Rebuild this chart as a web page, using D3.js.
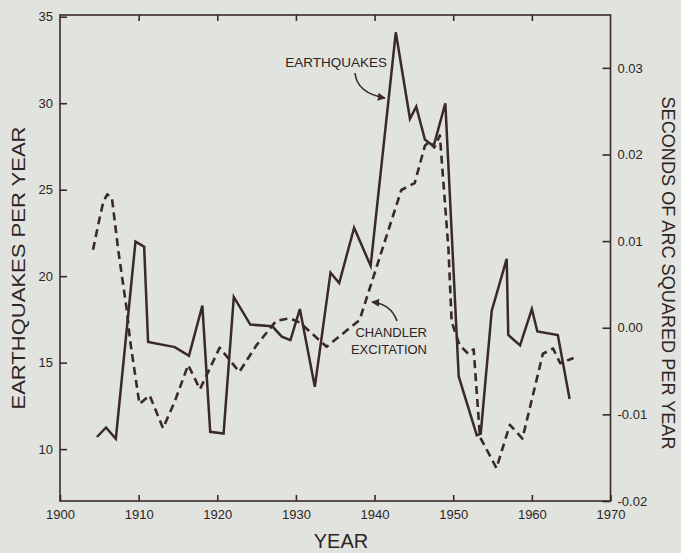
<!DOCTYPE html>
<html>
<head>
<meta charset="utf-8">
<script src="https://cdn.jsdelivr.net/npm/d3@7/dist/d3.min.js"></script>
<style>
  html, body { margin: 0; padding: 0; background: #e1e3de; }
  svg { display: block; }
  text { font-family: "Liberation Sans", Arial, sans-serif; fill: #2e2424; }
</style>
</head>
<body>
<svg id="chart" width="681" height="553"></svg>
<script>
// Annual earthquake counts (left axis)
const quakeYears = [1904.7, 1905.85, 1907.1, 1909.6, 1910.7, 1911.2, 1914.6, 1916.4, 1918.1, 1919.1,
  1920.8, 1922.1, 1924.2, 1927.0, 1928.2, 1929.3, 1930.5, 1932.4, 1934.4, 1935.5,
  1937.4, 1939.5, 1942.7, 1944.5, 1945.3, 1946.4, 1947.5, 1949.0, 1950.7, 1953.0,
  1953.5, 1954.9, 1956.8, 1957.0, 1958.5, 1960.0, 1960.7, 1963.3, 1964.8];
const quakeCounts = [10.7, 11.25, 10.6, 22.0, 21.7, 16.2, 15.9, 15.4, 18.3, 11.0,
  10.9, 18.8, 17.2, 17.1, 16.5, 16.3, 18.1, 13.6, 20.2, 19.6,
  22.8, 20.6, 34.1, 29.1, 29.8, 27.9, 27.5, 30.0, 14.2, 10.8,
  10.9, 18.0, 21.0, 16.6, 16.0, 18.1, 16.8, 16.6, 12.9];

// Chandler wobble excitation, seconds of arc squared per year (right axis)
const chandlerYears = [1904.2, 1905.0, 1905.5, 1906.0, 1906.6, 1907.4, 1908.5, 1908.9, 1910.1, 1911.4,
  1913.1, 1914.6, 1916.3, 1917.8, 1920.3, 1922.8, 1925.0, 1927.5, 1929.2, 1930.5,
  1933.9, 1938.1, 1941.1, 1943.4, 1945.1, 1946.4, 1947.0, 1947.6, 1948.3, 1949.4,
  1949.8, 1950.8, 1951.9, 1952.6, 1953.4, 1955.5, 1957.2, 1958.8, 1961.4, 1962.7,
  1963.6, 1965.3];
const chandlerValues = [0.0090, 0.0125, 0.0145, 0.0154, 0.0150, 0.0090, 0.0020, -0.0014, -0.0088, -0.0078,
  -0.0116, -0.0085, -0.0043, -0.0071, -0.0023, -0.0051, -0.0020, 0.0008, 0.0011, 0.0006,
  -0.0022, 0.0009, 0.0094, 0.0159, 0.0167, 0.0210, 0.0215, 0.0208, 0.0222, 0.0090,
  0.0007, -0.0020, -0.0030, -0.0025, -0.0126, -0.0162, -0.0112, -0.0128, -0.0030, -0.0024,
  -0.0041, -0.0035];

const yearTicks = [1900, 1910, 1920, 1930, 1940, 1950, 1960, 1970];
const countTicks = [10, 15, 20, 25, 30, 35];
const arcTicks = [-0.02, -0.01, 0.00, 0.01, 0.02, 0.03];

const ink = "#3a2929";
const svg = d3.select("#chart");

const plotLeft = 60, plotRight = 610.5, plotTop = 15, plotBottom = 501;
const x = d3.scaleLinear().domain([1900, 1970]).range([plotLeft, plotRight]);
const yL = d3.scaleLinear().domain([7, 35.1]).range([plotBottom, plotTop]);
const yR = d3.scaleLinear().domain([-0.02, 0.0361]).range([plotBottom, plotTop]);

// plot frame
svg.append("rect")
  .attr("x", plotLeft).attr("y", plotTop)
  .attr("width", plotRight - plotLeft).attr("height", plotBottom - plotTop)
  .attr("fill", "none").attr("stroke", ink).attr("stroke-width", 1.6);

function styleAxis(g) {
  g.select(".domain").remove();
  g.selectAll(".tick line").attr("stroke", ink).attr("stroke-width", 1.6);
  g.selectAll(".tick text").attr("font-size", 13).attr("fill", "#2e2424")
    .attr("font-family", "Liberation Sans, Arial, sans-serif");
}

// bottom axis
svg.append("g").attr("transform", `translate(0,${plotBottom})`)
  .call(d3.axisBottom(x).tickValues(yearTicks).tickFormat(d3.format("d")).tickSize(-6).tickPadding(9))
  .call(styleAxis);

// top ticks
svg.append("g").attr("transform", `translate(0,${plotTop})`)
  .call(d3.axisTop(x).tickValues(yearTicks.slice(1, -1)).tickFormat("").tickSize(-6))
  .call(styleAxis);

// left axis
svg.append("g").attr("transform", `translate(${plotLeft},0)`)
  .call(d3.axisLeft(yL).tickValues(countTicks).tickFormat(d3.format("d")).tickSize(-7).tickPadding(7))
  .call(styleAxis);

// right axis
const fmtArc = d => d3.format(".2f")(d).replace("\u2212", "-");
svg.append("g").attr("transform", `translate(${plotRight},0)`)
  .call(d3.axisRight(yR).tickValues(arcTicks).tickFormat(fmtArc).tickSize(-8).tickPadding(7))
  .call(styleAxis);

// series
const quakeLine = d3.line().x(d => x(d[0])).y(d => yL(d[1]));
const chandlerLine = d3.line().x(d => x(d[0])).y(d => yR(d[1]));

svg.append("path")
  .datum(d3.zip(chandlerYears, chandlerValues))
  .attr("d", chandlerLine)
  .attr("fill", "none").attr("stroke", ink).attr("stroke-width", 2.6)
  .attr("stroke-dasharray", "8,5").attr("stroke-linejoin", "round");

svg.append("path")
  .datum(d3.zip(quakeYears, quakeCounts))
  .attr("d", quakeLine)
  .attr("fill", "none").attr("stroke", ink).attr("stroke-width", 2.5)
  .attr("stroke-linejoin", "miter");

// axis titles
svg.append("text")
  .attr("transform", `translate(25,${(plotTop + plotBottom) / 2 + 10}) rotate(-90)`)
  .attr("text-anchor", "middle").attr("font-size", 19)
  .attr("textLength", 283).attr("lengthAdjust", "spacingAndGlyphs")
  .text("EARTHQUAKES PER YEAR");

svg.append("text")
  .attr("x", 341).attr("y", 548)
  .attr("text-anchor", "middle").attr("font-size", 20)
  .text("YEAR");

svg.append("text")
  .attr("transform", `translate(662,273) rotate(90)`)
  .attr("text-anchor", "middle").attr("font-size", 18)
  .attr("textLength", 353).attr("lengthAdjust", "spacingAndGlyphs")
  .text("SECONDS OF ARC SQUARED PER YEAR");

// annotations
svg.append("text").attr("x", 387).attr("y", 66.5)
  .attr("text-anchor", "end").attr("font-size", 13.5).text("EARTHQUAKES");
svg.append("text").attr("x", 427).attr("y", 337)
  .attr("text-anchor", "end").attr("font-size", 13).text("CHANDLER");
svg.append("text").attr("x", 427).attr("y", 353.5)
  .attr("text-anchor", "end").attr("font-size", 13).text("EXCITATION");

svg.append("defs").append("marker")
  .attr("id", "head").attr("viewBox", "0 0 10 10")
  .attr("refX", 9).attr("refY", 5)
  .attr("markerWidth", 8).attr("markerHeight", 8)
  .attr("markerUnits", "userSpaceOnUse")
  .attr("orient", "auto")
  .append("path").attr("d", "M0,0 L10,5 L0,10 Z").attr("fill", ink);

svg.append("path")
  .attr("d", "M355,73 Q357,93 385,98")
  .attr("fill", "none").attr("stroke", ink).attr("stroke-width", 1.6)
  .attr("marker-end", "url(#head)");

svg.append("path")
  .attr("d", "M397,321 Q391,304 372,302")
  .attr("fill", "none").attr("stroke", ink).attr("stroke-width", 1.6)
  .attr("marker-end", "url(#head)");
</script>
</body>
</html>
